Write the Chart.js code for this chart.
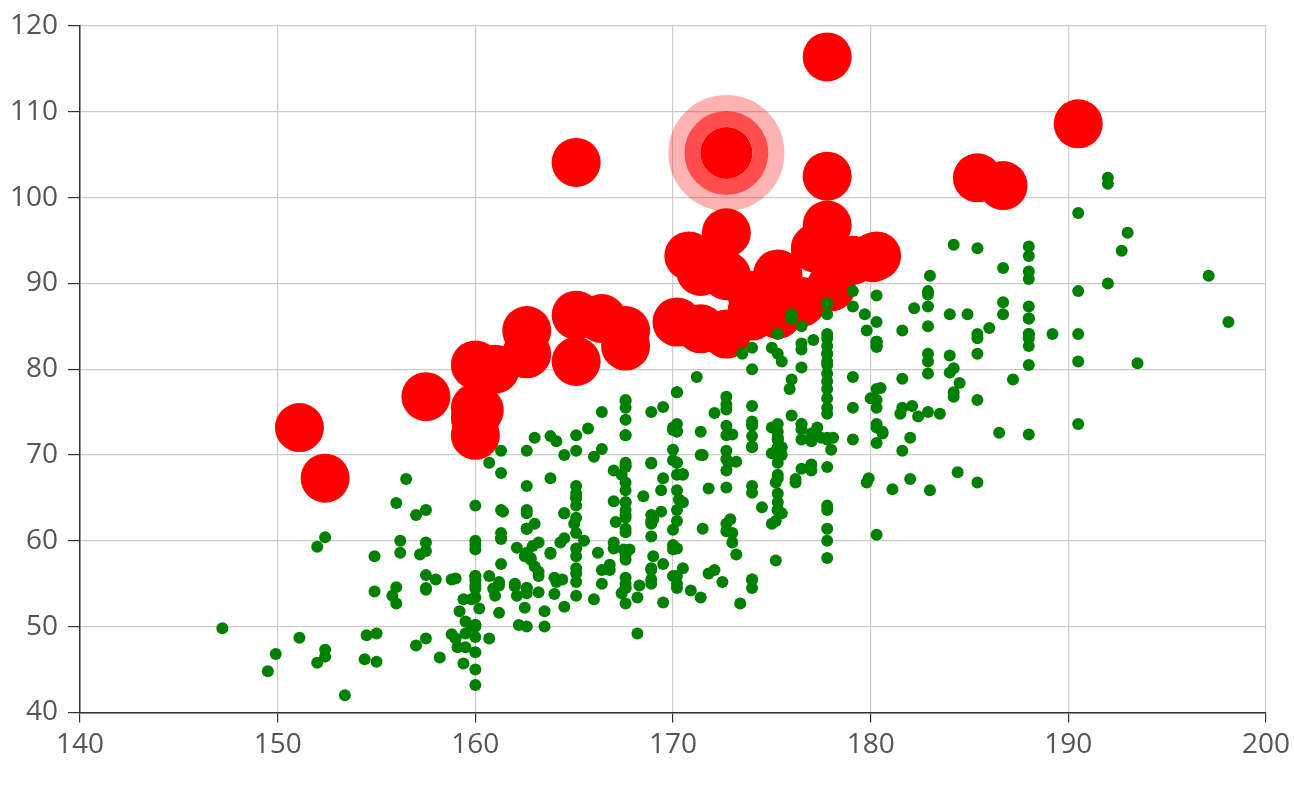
<!DOCTYPE html>
<html>
<head>
<meta charset="utf-8">
<script src="https://cdn.jsdelivr.net/npm/chart.js@4.4.1/dist/chart.umd.min.js"></script>
<style>
    body { margin: 0; background: #fff; }
    #wrap { width: 1294px; height: 786px; position: relative; }
</style>
</head>
<body>
<div id="wrap"><canvas id="myChart"></canvas></div>
<script>
/* height (cm) / weight (kg) samples, points with a BMI over bmiLimit are drawn big and red */
const xTicks = [140, 150, 160, 170, 180, 190, 200];
const yTicks = [40, 50, 60, 70, 80, 90, 100, 110, 120];
const bmiLimit = 28;
const hoveredPoint = [172.7, 105.2];

const femaleData = [[161.2, 51.6], [167.5, 59.0], [159.5, 49.2], [157.0, 63.0], [155.8, 53.6], [170.0, 59.0], [159.1, 47.6], [166.0, 69.8], [176.2, 66.8], [160.2, 75.2], [172.5, 55.2], [170.9, 54.2], [172.9, 62.5], [153.4, 42.0], [160.0, 50.0], [147.2, 49.8], [168.2, 49.2], [175.0, 73.2], [157.0, 47.8], [167.6, 68.8], [159.5, 50.6], [175.0, 82.5], [166.8, 57.2], [176.5, 87.8], [170.2, 72.8], [174.0, 54.5], [173.0, 59.8], [179.9, 67.3], [170.5, 67.8], [160.0, 47.0], [154.4, 46.2], [162.0, 55.0], [176.5, 83.0], [160.0, 54.4], [152.0, 45.8], [162.1, 53.6], [170.0, 73.2], [160.2, 52.1], [161.3, 67.9], [166.4, 56.6], [168.9, 62.3], [163.8, 58.5], [167.6, 54.5], [160.0, 50.2], [161.3, 60.3], [167.6, 58.3], [165.1, 56.2], [160.0, 50.2], [170.0, 72.9], [157.5, 59.8], [167.6, 61.0], [160.7, 69.1], [163.2, 55.9], [152.4, 46.5], [157.5, 54.3], [168.3, 54.8], [180.3, 60.7], [165.5, 60.0], [165.0, 62.0], [164.5, 60.3], [156.0, 52.7], [160.0, 74.3], [163.0, 62.0], [165.7, 73.1], [161.0, 80.0], [162.0, 54.7], [166.0, 53.2], [174.0, 75.7], [172.7, 61.1], [167.6, 55.7], [151.1, 48.7], [164.5, 52.3], [163.5, 50.0], [152.0, 59.3], [169.0, 62.5], [164.0, 55.7], [161.2, 54.8], [155.0, 45.9], [170.0, 70.6], [176.2, 67.2], [170.0, 69.4], [162.5, 58.2], [170.3, 64.8], [164.1, 71.6], [169.5, 52.8], [163.2, 59.8], [154.5, 49.0], [159.8, 50.0], [173.2, 69.2], [170.0, 55.9], [161.4, 63.4], [169.0, 58.2], [166.2, 58.6], [159.4, 45.7], [162.5, 52.2], [159.0, 48.6], [162.8, 57.8], [159.0, 55.6], [179.8, 66.8], [162.9, 59.4], [161.0, 53.6], [151.1, 73.2], [168.2, 53.4], [168.9, 69.0], [173.2, 58.4], [171.8, 56.2], [178.0, 70.6], [164.3, 59.8], [163.0, 72.0], [168.5, 65.2], [166.8, 56.6], [172.7, 105.2], [163.5, 51.8], [169.4, 63.4], [167.8, 59.0], [159.5, 47.6], [167.6, 63.0], [161.2, 55.2], [160.0, 45.0], [163.2, 54.0], [162.2, 50.2], [161.3, 60.2], [149.5, 44.8], [157.5, 58.8], [163.2, 56.4], [172.7, 62.0], [155.0, 49.2], [156.5, 67.2], [164.0, 53.8], [160.9, 54.4], [162.8, 58.0], [167.0, 59.8], [160.0, 54.8], [160.0, 43.2], [168.9, 60.5], [158.2, 46.4], [156.0, 64.4], [160.0, 48.8], [167.1, 62.2], [158.0, 55.5], [167.6, 57.8], [156.0, 54.6], [162.1, 59.2], [173.4, 52.7], [159.8, 53.2], [170.5, 64.5], [159.2, 51.8], [157.5, 56.0], [161.3, 63.6], [162.6, 63.2], [160.0, 59.5], [168.9, 56.8], [165.1, 64.1], [162.6, 50.0], [165.1, 72.3], [166.4, 55.0], [160.0, 55.9], [152.4, 60.4], [170.2, 69.1], [162.6, 84.5], [170.2, 55.9], [158.8, 55.5], [172.7, 69.5], [167.6, 76.4], [162.6, 61.4], [167.6, 65.9], [156.2, 58.6], [175.2, 66.8], [172.1, 56.6], [162.6, 58.6], [160.0, 55.9], [165.1, 59.1], [182.9, 81.8], [166.4, 70.7], [165.1, 56.8], [177.8, 60.0], [165.1, 58.2], [175.3, 72.7], [154.9, 54.1], [158.8, 49.1], [172.7, 75.9], [168.9, 55.0], [161.3, 57.3], [167.6, 55.0], [165.1, 65.5], [175.3, 65.5], [157.5, 48.6], [163.8, 58.6], [167.6, 63.6], [165.1, 55.2], [165.1, 62.7], [168.9, 56.6], [162.6, 53.9], [164.5, 63.2], [176.5, 73.6], [168.9, 62.0], [175.3, 63.6], [159.4, 53.2], [160.0, 53.4], [170.2, 55.0], [162.6, 70.5], [167.6, 54.5], [162.6, 54.5], [160.7, 55.9], [160.0, 59.0], [157.5, 63.6], [162.6, 54.5], [152.4, 47.3], [170.2, 67.7], [165.1, 80.9], [172.7, 70.5], [165.1, 60.9], [170.2, 63.6], [170.2, 54.5], [170.2, 59.1], [161.3, 70.5], [167.6, 52.7], [167.6, 62.7], [165.1, 86.3], [162.6, 66.4], [152.4, 67.3], [168.9, 63.0], [170.2, 73.6], [175.2, 62.3], [175.2, 57.7], [160.0, 55.4], [165.1, 104.1], [174.0, 55.5], [170.2, 77.3], [160.0, 80.5], [167.6, 64.5], [167.6, 72.3], [167.6, 61.4], [154.9, 58.2], [162.6, 81.8], [175.3, 63.6], [171.4, 53.4], [157.5, 54.5], [165.1, 53.6], [160.0, 60.0], [174.0, 73.6], [162.6, 61.4], [174.0, 55.5], [162.6, 63.6], [161.3, 60.9], [156.2, 60.0], [149.9, 46.8], [169.5, 57.3], [160.0, 64.1], [175.3, 63.6], [169.5, 67.3], [160.0, 75.5], [172.7, 68.2], [162.6, 61.4], [157.5, 76.8], [176.5, 71.8], [164.4, 55.5], [160.7, 48.6], [174.0, 66.4], [163.8, 67.3]];

const maleData = [[174.0, 65.6], [175.3, 71.8], [193.5, 80.7], [186.5, 72.6], [187.2, 78.8], [181.5, 74.8], [184.0, 86.4], [184.5, 78.4], [175.0, 62.0], [184.0, 81.6], [180.0, 76.6], [177.8, 83.6], [192.0, 90.0], [176.0, 74.6], [174.0, 71.0], [184.0, 79.6], [192.7, 93.8], [171.5, 70.0], [173.0, 72.4], [176.0, 85.9], [176.0, 78.8], [180.5, 77.8], [172.7, 66.2], [176.0, 86.4], [173.5, 81.8], [178.0, 89.6], [180.3, 82.8], [180.3, 76.4], [164.5, 63.2], [173.0, 60.9], [183.5, 74.8], [175.5, 70.0], [188.0, 72.4], [189.2, 84.1], [172.8, 69.1], [170.0, 59.5], [182.0, 67.2], [170.0, 61.3], [177.8, 68.6], [184.2, 80.1], [186.7, 87.8], [171.4, 84.7], [172.7, 73.4], [175.3, 72.1], [180.3, 82.6], [182.9, 88.7], [188.0, 84.1], [177.2, 94.1], [172.1, 74.9], [167.0, 59.1], [169.5, 75.6], [174.0, 86.2], [172.7, 75.3], [182.2, 87.1], [164.1, 55.2], [163.0, 57.0], [171.5, 61.4], [184.2, 76.8], [174.0, 86.8], [174.0, 72.2], [177.0, 71.6], [186.0, 84.8], [167.0, 68.2], [171.8, 66.1], [182.0, 72.0], [167.0, 64.6], [177.8, 74.8], [164.5, 70.0], [192.0, 101.6], [175.5, 63.2], [171.2, 79.1], [181.6, 78.9], [167.4, 67.7], [181.1, 66.0], [177.0, 68.2], [174.5, 63.9], [177.5, 72.0], [170.5, 56.8], [182.4, 74.5], [197.1, 90.9], [180.1, 93.0], [175.5, 80.9], [180.6, 72.7], [184.4, 68.0], [175.5, 70.9], [180.6, 72.5], [177.0, 72.5], [177.1, 83.4], [181.6, 75.5], [176.5, 73.0], [175.0, 70.2], [174.0, 73.4], [165.1, 70.5], [177.0, 68.9], [192.0, 102.3], [176.5, 68.4], [169.4, 65.9], [182.1, 75.7], [179.8, 84.5], [175.3, 87.7], [184.9, 86.4], [177.3, 73.2], [167.4, 53.9], [178.1, 72.0], [168.9, 55.5], [157.2, 58.4], [180.3, 83.2], [170.2, 72.7], [177.8, 64.1], [172.7, 72.3], [165.1, 65.0], [186.7, 86.4], [165.1, 65.0], [174.0, 88.6], [175.3, 84.1], [185.4, 66.8], [177.8, 75.5], [180.3, 93.2], [180.3, 82.7], [177.8, 58.0], [177.8, 79.5], [177.8, 78.6], [177.8, 71.8], [177.8, 116.4], [163.8, 72.2], [188.0, 83.6], [198.1, 85.5], [175.3, 90.9], [166.4, 85.9], [190.5, 89.1], [166.4, 75.0], [177.8, 77.7], [179.7, 86.4], [172.7, 90.9], [190.5, 73.6], [185.4, 76.4], [168.9, 69.1], [167.6, 84.5], [175.3, 64.5], [170.2, 69.1], [190.5, 108.6], [177.8, 86.4], [190.5, 80.9], [177.8, 87.7], [184.2, 94.5], [176.5, 80.2], [177.8, 72.0], [180.3, 71.4], [171.4, 72.7], [172.7, 84.1], [172.7, 76.8], [177.8, 63.6], [177.8, 80.9], [182.9, 80.9], [170.2, 85.5], [167.6, 68.6], [175.3, 67.7], [165.1, 66.4], [185.4, 102.3], [181.6, 70.5], [172.7, 95.9], [190.5, 84.1], [179.1, 87.3], [175.3, 71.8], [170.2, 65.9], [193.0, 95.9], [171.4, 91.4], [177.8, 81.8], [177.8, 96.8], [167.6, 69.1], [167.6, 82.7], [180.3, 75.5], [182.9, 79.5], [176.5, 73.6], [186.7, 91.8], [188.0, 84.1], [188.0, 85.9], [177.8, 81.8], [174.0, 82.5], [177.8, 80.5], [171.4, 70.0], [185.4, 81.8], [185.4, 84.1], [188.0, 90.5], [188.0, 91.4], [182.9, 89.1], [176.5, 85.0], [175.3, 69.1], [175.3, 73.6], [188.0, 80.5], [188.0, 82.7], [175.3, 86.4], [170.5, 67.7], [179.1, 92.7], [177.8, 93.6], [175.3, 70.9], [182.9, 75.0], [170.8, 93.2], [188.0, 93.2], [180.3, 77.7], [177.8, 61.4], [185.4, 94.1], [168.9, 75.0], [185.4, 83.6], [180.3, 85.5], [174.0, 73.9], [167.6, 66.8], [182.9, 87.3], [160.0, 72.3], [180.3, 88.6], [167.6, 75.5], [186.7, 101.4], [175.3, 91.1], [175.3, 67.3], [175.9, 77.7], [175.3, 81.8], [179.1, 75.5], [181.6, 84.5], [177.8, 76.6], [182.9, 85.0], [177.8, 102.5], [184.2, 77.3], [179.1, 71.8], [176.5, 87.9], [188.0, 94.3], [174.0, 70.9], [167.6, 64.5], [170.2, 77.3], [167.6, 72.3], [188.0, 87.3], [174.0, 80.0], [176.5, 82.3], [180.3, 73.6], [167.6, 74.1], [188.0, 85.9], [180.3, 73.2], [167.6, 76.3], [183.0, 65.9], [183.0, 90.9], [179.1, 89.1], [170.2, 62.3], [177.8, 82.7], [179.1, 79.1], [190.5, 98.2], [177.8, 84.1], [180.3, 83.2], [180.3, 83.2]];

window.onload = function () {
    const all = femaleData.concat(maleData);
    const bmi = (p) => p[1] / Math.pow(p[0] / 100, 2);
    const normalPts = all.filter(p => bmi(p) < bmiLimit).map(p => ({ x: p[0], y: p[1] }));
    const heavyPts = all.filter(p => bmi(p) >= bmiLimit).map(p => ({ x: p[0], y: p[1] }));

    // rings around the hovered point, like the emphasis effect in the reference
    const hoverRing = {
        id: 'hoverRing',
        afterDatasetsDraw(chart) {
            const ctx = chart.ctx;
            chart.getActiveElements().forEach(a => {
                const el = a.element;
                ctx.save();
                ctx.lineWidth = 16;
                ctx.strokeStyle = 'rgba(255, 0, 0, 0.3)';
                ctx.beginPath();
                ctx.arc(el.x, el.y, 50, 0, Math.PI * 2);
                ctx.stroke();
                ctx.strokeStyle = 'rgba(255, 0, 0, 0.7)';
                ctx.beginPath();
                ctx.arc(el.x, el.y, 34, 0, Math.PI * 2);
                ctx.stroke();
                ctx.restore();
            });
        }
    };

    const tickFont = { family: '"Open Sans", sans-serif', size: 28 };

    const ctx = document.getElementById('myChart');
    const myChart = new Chart(ctx, {
        type: 'scatter',
        data: {
            datasets: [{
                label: 'normal',
                data: normalPts,
                backgroundColor: '#008000',
                borderWidth: 0,
                pointRadius: 6,
                pointHoverRadius: 6,
            }, {
                label: 'overweight',
                data: heavyPts,
                backgroundColor: '#ff0000',
                hoverBackgroundColor: '#ff0000',
                borderWidth: 0,
                pointRadius: 24.5,
                pointHoverRadius: 26,
                pointHoverBorderWidth: 0,
            }]
        },
        options: {
            responsive: true,
            maintainAspectRatio: false,
            animation: false,
            layout: { padding: { left: 0, right: 0, top: -3, bottom: 18 } },
            plugins: {
                legend: { display: false },
                tooltip: { enabled: false }
            },
            scales: {
                x: {
                    type: 'linear',
                    min: xTicks[0],
                    max: xTicks[xTicks.length - 1],
                    afterBuildTicks: (axis) => { axis.ticks = xTicks.map(v => ({ value: v })); },
                    afterFit: (axis) => { axis.paddingRight -= 2; },
                    ticks: { color: '#555', font: tickFont, padding: 6, maxRotation: 0 },
                    grid: { color: '#cccccc', tickColor: '#333', tickLength: 10, lineWidth: 1.2 },
                    border: { color: '#333', width: 1.5 }
                },
                y: {
                    min: yTicks[0],
                    max: yTicks[yTicks.length - 1],
                    afterBuildTicks: (axis) => { axis.ticks = yTicks.map(v => ({ value: v })); },
                    afterFit: (axis) => { axis.paddingTop -= 8; },
                    ticks: { color: '#555', font: tickFont, padding: 10 },
                    grid: { color: '#cccccc', tickColor: '#333', tickLength: 12, lineWidth: 1.2 },
                    border: { color: '#333', width: 1.5 }
                }
            }
        },
        plugins: [hoverRing]
    });

    const idx = heavyPts.findIndex(p => p.x === hoveredPoint[0] && p.y === hoveredPoint[1]);
    myChart.setActiveElements([{ datasetIndex: 1, index: idx }]);
    myChart.update();
};
</script>
</body>
</html>
